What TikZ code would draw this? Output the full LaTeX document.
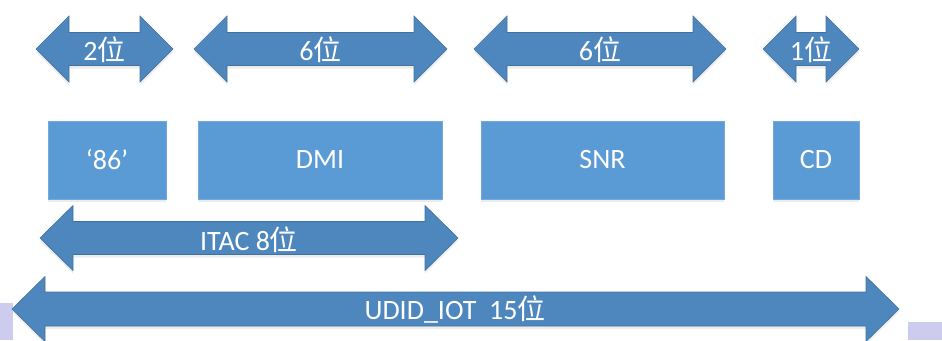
\documentclass[tikz,border=0pt]{standalone}
\usepackage{fontspec}
\setmainfont{Carlito}
\newfontfamily\cjk{Noto Sans CJK SC}
\usetikzlibrary{shadows}
\definecolor{spanblue}{HTML}{4E87BE}
\definecolor{spanline}{HTML}{41719C}
\definecolor{fieldblue}{HTML}{5B9BD5}
\definecolor{slidebg}{HTML}{CDCBEE}
\tikzset{
    every node/.style={font=\fontsize{28}{32}\selectfont, text=white},
    field/.style={rectangle, fill=fieldblue, draw=fieldblue!85!white,
        minimum height=78pt, inner sep=0pt,
        drop shadow={shadow xshift=0pt, shadow yshift=-3pt, opacity=.15}},
    span/.style={fill=spanblue, draw=spanline, line width=.6pt,
        drop shadow={shadow xshift=0pt, shadow yshift=-3pt, opacity=.15}}
}
% double arrow: left tip, right tip, centre line, half head, half shaft
\newcommand\bitspan[5]{%
    \draw[span] (#1,#3) -- (#1+33,#3-#4) -- (#1+33,#3-#5) -- (#2-33,#3-#5)
        -- (#2-33,#3-#4) -- (#2,#3) -- (#2-33,#3+#4) -- (#2-33,#3+#5)
        -- (#1+33,#3+#5) -- (#1+33,#3+#4) -- cycle;}
\newcommand\wei{{\cjk 位}}

\begin{document}
\begin{tikzpicture}[x=1pt, y=-1pt]
	\useasboundingbox (0,0) rectangle (942,340);
	\fill[slidebg] (0,303) rectangle (13,340);
	\fill[slidebg] (908,322) rectangle (942,340);

	\bitspan{36}{173}{49}{33}{16.5}
	\bitspan{194}{447}{49}{33}{16.5}
	\bitspan{474}{726}{49}{33}{16.5}
	\bitspan{763}{859}{49}{33}{16.5}
	\node (b86) at (104.5, 50) {2\wei};
	\node (bdmi) at (320.5, 50) {6\wei};
	\node (bsnr) at (600, 50) {6\wei};
	\node (bcd) at (811, 50) {1\wei};

	\node (86) [field, minimum width=118pt] at (107, 160) {‘86’};
	\node (dmi) [field, minimum width=244pt] at (320, 160) {DMI};
	\node (snr) [field, minimum width=243pt] at (602.5, 160) {SNR};
	\node (cd) [field, minimum width=86pt] at (816, 160) {CD};

	\bitspan{40}{458}{238}{32.5}{16.5}
	\node (itac) at (249, 240) {ITAC 8\wei};

	\bitspan{12}{899}{309}{32.5}{17}
	\node (udid) at (455, 310) {UDID\_IOT\ \ 15\wei};
\end{tikzpicture}
\end{document}
